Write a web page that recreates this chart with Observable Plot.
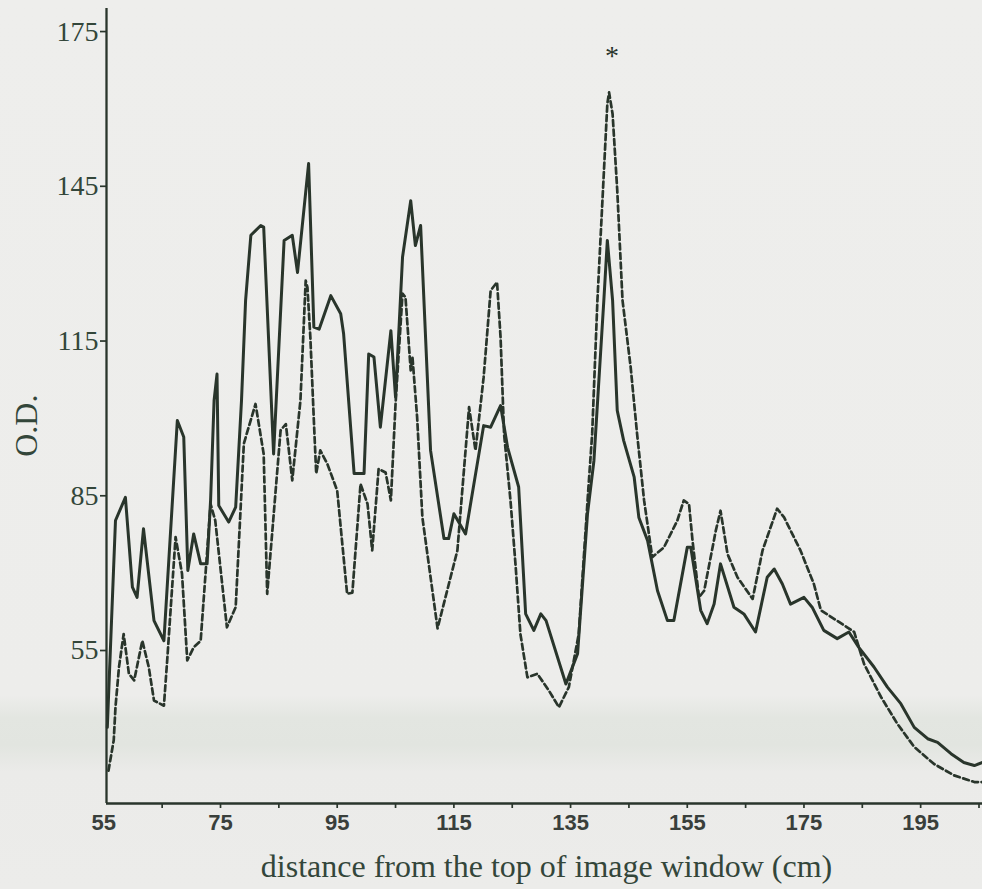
<!DOCTYPE html>
<html>
<head>
<meta charset="utf-8">
<script src="https://cdn.jsdelivr.net/npm/d3@7"></script>
<script src="https://cdn.jsdelivr.net/npm/@observablehq/plot@0.6"></script>
<style>
  html, body { margin: 0; padding: 0; }
  body {
    width: 982px; height: 889px; overflow: hidden;
    background: linear-gradient(to bottom, #eeeeec 0px, #ededeb 695px, #e3e6e1 718px, #e2e5e0 745px, #ebebe9 772px, #ececea 889px);
  }
  svg { display: block; }
</style>
</head>
<body>
<div id="chart"></div>
<script>
// ---- data ----
const solidX = [55.6, 57.0, 58.7, 59.9, 60.7, 61.8, 63.6, 65.3, 67.6, 68.7, 69.4, 70.4, 71.6, 72.7, 73.3, 73.9, 74.4, 74.7, 76.4, 77.6, 78.6, 79.3, 80.2, 81.9, 82.4, 84.1, 85.9, 87.3, 88.2, 90.1, 91.0, 91.9, 93.9, 95.6, 96.1, 97.9, 99.6, 100.4, 101.3, 102.4, 104.2, 105.0, 106.2, 107.6, 108.4, 109.3, 111.0, 113.3, 114.1, 115.0, 117.0, 120.1, 121.3, 123.0, 124.2, 126.1, 127.3, 128.7, 129.9, 130.8, 134.2, 136.2, 137.9, 139.0, 140.7, 141.3, 142.2, 143.0, 144.1, 145.9, 146.7, 148.2, 149.9, 151.6, 152.7, 155.0, 155.6, 157.3, 158.4, 159.6, 160.7, 163.0, 164.7, 166.7, 168.7, 169.9, 171.3, 172.7, 175.0, 176.4, 178.4, 180.7, 182.7, 184.4, 187.0, 189.3, 191.6, 193.9, 196.2, 197.9, 200.2, 202.4, 204.2, 205.6];
const solidOD = [40.1, 80.2, 84.7, 67.3, 65.3, 78.6, 60.8, 56.9, 99.6, 96.4, 70.5, 77.6, 71.8, 71.8, 84.1, 103.5, 108.6, 83.1, 79.9, 82.8, 103.5, 122.9, 135.5, 137.4, 137.1, 93.1, 134.5, 135.5, 128.3, 149.4, 117.7, 117.3, 123.8, 120.3, 116.4, 89.3, 89.3, 112.5, 111.9, 98.3, 117.0, 104.1, 131.3, 142.2, 133.5, 137.4, 93.8, 76.7, 76.7, 81.5, 77.6, 98.6, 98.3, 102.5, 94.4, 86.7, 62.1, 58.9, 62.1, 60.8, 48.5, 54.4, 81.5, 91.8, 122.9, 134.5, 122.9, 101.5, 95.7, 88.6, 80.8, 76.3, 66.6, 60.8, 60.8, 75.0, 75.0, 62.8, 60.2, 64.0, 71.8, 63.4, 62.1, 58.6, 69.2, 70.8, 67.9, 64.0, 65.3, 63.4, 58.9, 57.3, 58.6, 55.6, 51.8, 47.9, 44.7, 40.1, 37.9, 37.2, 35.0, 33.3, 32.7, 33.3];

const dashedX = [55.8, 56.7, 57.0, 57.6, 58.4, 59.3, 60.2, 61.6, 62.7, 63.6, 65.3, 65.9, 66.4, 67.3, 68.4, 69.3, 70.4, 71.6, 73.3, 74.1, 76.1, 77.6, 79.0, 81.0, 82.4, 83.0, 85.3, 86.2, 87.3, 88.7, 89.3, 89.6, 89.9, 90.4, 91.0, 91.4, 92.1, 93.3, 95.0, 96.7, 97.6, 99.0, 100.2, 101.0, 102.1, 103.3, 104.2, 105.0, 106.2, 106.7, 107.6, 107.9, 108.7, 109.6, 112.2, 115.6, 117.0, 117.6, 118.7, 120.1, 121.3, 122.4, 123.0, 123.6, 124.7, 125.6, 126.4, 127.6, 129.3, 131.3, 133.0, 134.7, 136.4, 138.1, 138.7, 139.6, 140.4, 141.3, 141.6, 142.2, 143.0, 143.9, 145.3, 146.4, 147.6, 149.0, 151.0, 153.3, 154.4, 155.3, 155.9, 157.0, 157.9, 159.9, 160.7, 161.9, 163.6, 166.2, 167.9, 170.4, 171.6, 174.4, 176.7, 177.9, 182.4, 183.6, 185.3, 188.2, 191.0, 193.9, 197.3, 200.7, 204.2, 205.6];
const dashedOD = [31.7, 37.6, 44.0, 51.8, 58.2, 50.5, 49.2, 56.9, 51.8, 45.3, 44.3, 53.7, 62.1, 77.0, 69.9, 53.1, 55.6, 56.9, 83.4, 80.2, 59.5, 63.4, 95.1, 102.8, 93.1, 66.0, 97.7, 98.9, 88.0, 103.5, 119.0, 126.7, 125.4, 115.7, 99.6, 89.3, 93.8, 91.2, 86.0, 66.0, 66.2, 87.3, 83.4, 74.4, 90.2, 89.5, 84.1, 102.8, 124.2, 123.5, 109.3, 111.9, 100.2, 80.8, 59.3, 74.4, 93.8, 102.2, 93.8, 108.0, 124.8, 126.4, 115.7, 97.0, 84.1, 71.1, 58.2, 49.8, 50.5, 47.2, 44.0, 47.9, 58.2, 87.3, 97.0, 122.9, 140.9, 161.0, 163.2, 159.0, 144.2, 122.9, 109.9, 97.0, 84.1, 73.1, 75.0, 80.2, 84.1, 83.4, 76.3, 65.3, 66.6, 78.3, 82.1, 73.7, 69.2, 65.0, 74.4, 82.5, 80.8, 74.4, 67.9, 62.8, 59.5, 58.6, 52.4, 46.0, 40.8, 36.3, 33.0, 30.8, 29.5, 29.5];

const yTicks = [55, 85, 115, 145, 175];
const xLabelTicks = [55, 75, 95, 115, 135, 155, 175, 195];
const xMinorTicks = [65, 75, 85, 95, 105, 115, 125, 135, 145, 155, 165, 175, 185, 195, 205];
const yLabel = "O.D.";
const xLabel = "distance from the top of image window (cm)";
const markerText = "*";
const markerX = [142.1];
const markerOD = [170.3];

// ---- build tables ----
const solid = solidX.map((x, i) => ({x, y: solidOD[i]}));
const dashed = dashedX.map((x, i) => ({x, y: dashedOD[i]}));
const marker = markerX.map((x, i) => ({x, y: markerOD[i], t: markerText}));

const ink = "#29352b";
const textInk = "#33463a";
const serif = "'Liberation Serif', 'DejaVu Serif', serif";
const sans = "'Liberation Sans', Arial, sans-serif";
const xMin = 55.46, xMax = 205.6, yMin = 25.34, yMax = 179.47;

const chart = Plot.plot({
  width: 982,
  height: 889,
  marginLeft: 106,
  marginRight: 0,
  marginTop: 8,
  marginBottom: 86,
  x: {domain: [xMin, xMax]},
  y: {domain: [yMin, yMax]},
  style: {background: "transparent", color: textInk, overflow: "visible"},
  marks: [
    Plot.line(dashed, {x: "x", y: "y", stroke: ink, strokeWidth: 2.7, strokeDasharray: "6,3.5", strokeLinejoin: "round"}),
    Plot.line(solid, {x: "x", y: "y", stroke: ink, strokeWidth: 3, strokeLinejoin: "round"}),
    Plot.ruleX([xMin], {stroke: ink, strokeWidth: 2.3}),
    Plot.ruleY([yMin], {stroke: ink, strokeWidth: 2.3}),
    Plot.axisY({ticks: yTicks, tickSize: 6, tickPadding: 2, fontSize: 28, fontFamily: serif, label: null, stroke: ink, strokeWidth: 1.7, fill: textInk}),
    Plot.axisX({ticks: xMinorTicks, tickSize: 5, text: null, label: null, stroke: ink, strokeWidth: 1.7}),
    Plot.axisX({ticks: xLabelTicks, tickSize: 0, tickPadding: 11, fontSize: 22, fontWeight: "bold", fontFamily: sans, label: null, fill: "#393f3b"}),
    Plot.text(marker, {x: "x", y: "y", text: "t", fontSize: 28, fontFamily: serif, fill: ink}),
    Plot.text([{x: xMin, y: 98.6, t: yLabel}], {x: "x", y: "y", text: "t", dx: -80, rotate: -90, fontSize: 32, fontFamily: serif, fill: textInk}),
    Plot.text([xLabel], {frameAnchor: "bottom", dy: 73, dx: 2, fontSize: 32, fontFamily: serif, fill: textInk})
  ]
});
document.getElementById("chart").appendChild(chart);
</script>
</body>
</html>
